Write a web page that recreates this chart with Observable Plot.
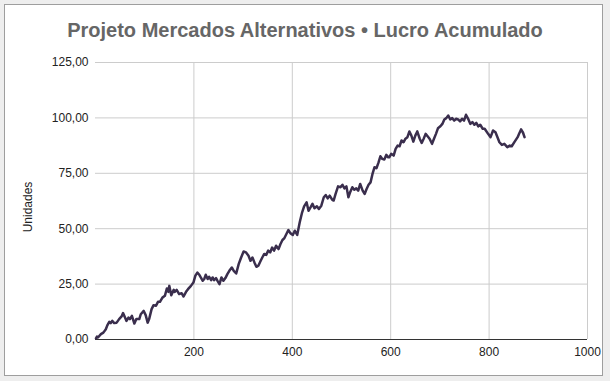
<!DOCTYPE html>
<html>
<head>
<meta charset="utf-8">
<script src="https://cdn.jsdelivr.net/npm/d3@7"></script>
<script src="https://cdn.jsdelivr.net/npm/@observablehq/plot@0.6"></script>
<style>
  html, body { margin: 0; padding: 0; background: #eeeeee; }
  #wrap { position: relative; width: 610px; height: 381px; background: #eeeeee; overflow: hidden; }
  #card { position: absolute; left: 4px; top: 4px; width: 597px; height: 370px; background: #fff; border: 1px solid #9e9e9e; }
  #title { position: absolute; left: 0; top: 19px; width: 610px; text-align: center;
           font-family: "Liberation Sans", Arial, sans-serif; font-weight: bold; font-size: 20px; color: #666; }
  #ylab { position: absolute; left: 28px; top: 207px; width: 0; height: 0; }
  #ylab span { position: absolute; left: 0; top: 0; transform: translate(-50%, -50%) rotate(-90deg);
               white-space: nowrap; font-family: "Liberation Sans", Arial, sans-serif; font-size: 12px; color: #222; }
  #chart { position: absolute; left: 0; top: 0; }
</style>
</head>
<body>
<div id="wrap">
  <div id="card"></div>
  <div id="title"></div>
  <div id="chart"></div>
  <div id="ylab"><span></span></div>
</div>
<script>
const titleText = "Projeto Mercados Alternativos • Lucro Acumulado";
const yLabel = "Unidades";
const xTicks = [200, 400, 600, 800, 1000];
const yTicks = [0, 25, 50, 75, 100, 125];

const steps = [1,3,5,11,16,21,24,28,31,34,38,43,48,53,56,60,63,67,70,74,79,83,89,92,98,102,106,109,114,118,123,127,131,136,141,145,148,150,154,159,161,165,170,175,179,184,188,194,199,203,207,
211,214,218,221,224,228,231,235,238,241,245,248,252,256,260,264,268,272,277,281,286,291,296,301,306,311,315,319,323,327,331,335,339,343,347,351,355,359,363,367,372,376,380,384,388,392,396,401,405,410,
415,420,424,429,433,437,441,445,450,454,459,464,468,472,476,481,484,488,493,498,502,506,510,514,518,522,526,530,534,538,543,547,551,555,559,563,567,571,575,579,583,587,591,595,
597,601,606,610,614,618,622,626,630,634,638,642,646,650,654,659,663,667,671,675,679,684,688,692,696,701,705,709,713,717,721,725,729,733,737,741,745,749,753,758,762,766,770,774,778,782,
787,791,798,803,808,813,817,821,826,831,837,842,846,852,858,861,865,869,872];

const lucro = [0.5,1.3,0.9,2.4,3.1,4.6,6.4,8.0,7.4,8.4,7.4,7.6,9.2,10.4,11.9,9.9,8.4,9.9,9.2,10.7,7.2,9.2,9.2,11.4,12.9,11.0,7.6,9.2,13.7,15.5,15.2,17.0,17.0,18.9,19.7,23.0,21.5,24.2,20.0,22.4,21.5,22.4,20.5,20.9,19.4,21.5,22.7,24.2,25.7,28.8,30.2,
29.2,28.0,26.5,27.3,29.2,27.3,28.3,26.8,28.0,26.8,27.7,26.5,25.0,28.0,26.5,27.7,29.5,31.0,32.5,31.0,29.8,34.0,37.0,39.7,39.3,37.8,35.5,37.0,34.8,32.8,33.3,35.2,37.0,38.6,38.2,40.1,39.3,41.5,40.1,42.3,40.8,43.1,44.9,45.8,47.6,49.4,48.0,47.2,49.1,47.2,
52.8,57.4,60.1,61.9,58.1,59.6,61.2,59.2,60.1,58.9,60.4,64.2,65.2,63.7,64.9,63.1,62.7,65.7,69.1,68.7,69.8,68.2,69.1,64.2,66.7,68.7,67.6,68.2,67.2,70.2,67.2,65.7,67.9,69.8,70.9,74.7,77.7,77.3,79.7,82.7,81.5,81.2,83.3,82.2,
82.2,83.8,83.0,86.0,87.5,87.2,89.8,89.0,90.6,91.3,93.9,92.0,89.3,92.0,93.9,90.6,88.7,90.6,92.8,91.7,90.6,88.3,90.6,92.8,95.3,96.2,97.3,99.3,99.9,101.1,99.3,99.9,98.8,99.6,99.3,98.4,99.6,98.8,101.4,99.3,97.3,98.1,96.9,97.8,96.2,96.9,
95.1,95.1,92.8,91.3,94.3,93.5,91.3,89.0,87.8,88.3,86.8,87.5,87.2,89.3,91.3,92.8,94.8,93.3,91.3];

const data = steps.map((s, i) => ({ x: s, y: lucro[i] }));
const fmt = d => d.toFixed(2).replace(".", ",");

document.getElementById("title").textContent = titleText;
document.querySelector("#ylab span").textContent = yLabel;

const chart = Plot.plot({
  width: 610,
  height: 381,
  marginLeft: 95,
  marginRight: 23,
  marginTop: 62,
  marginBottom: 42,
  style: { fontFamily: "'Liberation Sans', Arial, sans-serif", fontSize: "12px", color: "#222", background: "transparent" },
  x: { domain: [0, 1000] },
  y: { domain: [0, 125] },
  marks: [
    Plot.gridX(xTicks, { stroke: "#cccccc", strokeOpacity: 1 }),
    Plot.gridY(yTicks.filter(d => d > 0), { stroke: "#cccccc", strokeOpacity: 1 }),
    Plot.ruleY([0], { stroke: "#333333" }),
    Plot.line(data, { x: "x", y: "y", stroke: "#3a2e4d", strokeWidth: 2.5, strokeLinejoin: "round" }),
    Plot.axisX({ ticks: xTicks, tickSize: 0, tickPadding: 8, tickFormat: d => String(d), label: null, fill: "#222" }),
    Plot.axisY({ ticks: yTicks, tickSize: 0, tickPadding: 7, tickFormat: fmt, label: null, fill: "#222" })
  ]
});
document.getElementById("chart").appendChild(chart);
</script>
</body>
</html>
